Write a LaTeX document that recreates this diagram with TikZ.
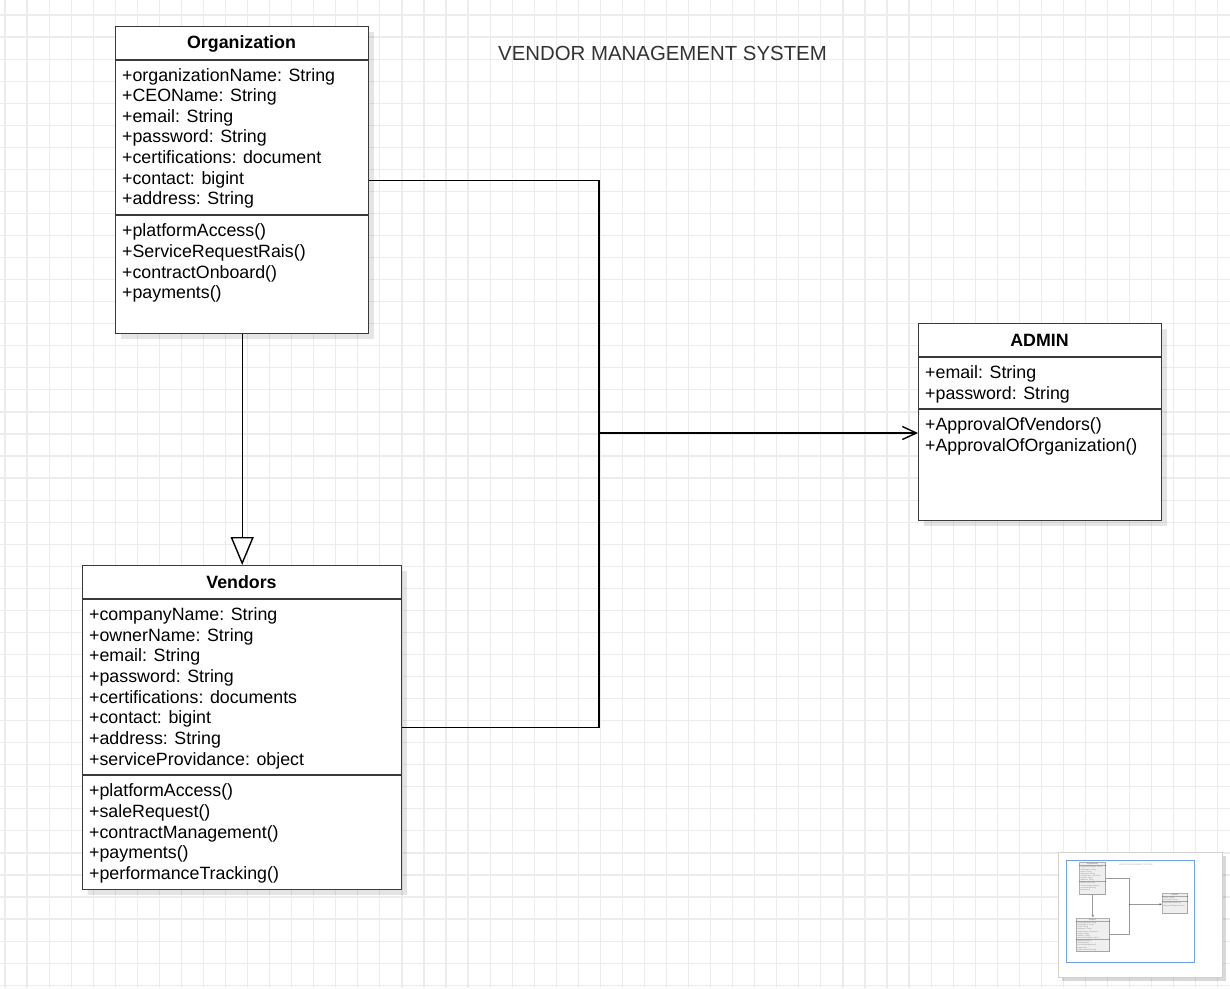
\documentclass[tikz,border=0pt]{standalone}
\usepackage{fontspec}
\setmainfont{Liberation Sans}
\usetikzlibrary{arrows.meta,shadows}
\definecolor{gridgray}{RGB}{236,236,236}
\definecolor{boxline}{RGB}{58,58,58}
\definecolor{titlegray}{RGB}{51,51,51}
\definecolor{miniblue}{RGB}{110,160,235}
\newcommand{\umllw}{1.4pt}
\tikzset{
CLASS/.style={draw=boxline, fill=white, line width=\umllw, inner sep=0pt, anchor=north west,
  drop shadow={shadow xshift=5pt, shadow yshift=-5pt, fill=black, opacity=.10}},
HEAD/.style={font=\fontsize{17.8}{21}\selectfont\bfseries, anchor=base, inner sep=0pt},
MEMBER/.style={font=\fontsize{17.8}{21}\selectfont, anchor=base west, inner sep=0pt},
TITLE/.style={font=\fontsize{20.4}{24}\selectfont, text=titlegray, anchor=base, inner sep=0pt},
DIVIDER/.style={draw=boxline, line width=\umllw},
LINK/.style={draw=black, line width=\umllw},
INHERIT/.style={LINK, -{Triangle[open, length=28pt, width=23pt, fill=white]}},
ASSOC/.style={LINK, -{Straight Barb[length=14pt, width=13pt]}},
GRID/.style={draw=gridgray, line width=1.2pt},
}
% the whole class diagram, #1 = prefix for node names
\newcommand{\vmsdiagram}[1]{%
	\node[TITLE] (#1title) at (662.5,60) {VENDOR MANAGEMENT SYSTEM};
	% Organization
	\node[CLASS, minimum width=253pt, minimum height=307pt] (#1org) at (115,26) {};
	\node[HEAD] (#1orghead) at (241.5,48.5) {Organization};
	\draw[DIVIDER] ([yshift=-34pt]#1org.north west) -- ([yshift=-34pt]#1org.north east);
	\draw[DIVIDER] ([yshift=-189pt]#1org.north west) -- ([yshift=-189pt]#1org.north east);
	\foreach \t [count=\i] in {+organizationName: String, +CEOName: String, +email: String,
		+password: String, +certifications: document, +contact: bigint, +address: String}
		\node[MEMBER] (#1orga\i) at (122,{81+20.65*(\i-1)}) {\t};
	\foreach \t [count=\i] in {+platformAccess(), +ServiceRequestRais(), +contractOnboard(), +payments()}
		\node[MEMBER] (#1orgm\i) at (122,{236.7+20.65*(\i-1)}) {\t};
	% Vendors
	\node[CLASS, minimum width=319pt, minimum height=324pt] (#1vend) at (82,565) {};
	\node[HEAD] (#1vendhead) at (241.5,588.3) {Vendors};
	\draw[DIVIDER] ([yshift=-34pt]#1vend.north west) -- ([yshift=-34pt]#1vend.north east);
	\draw[DIVIDER] ([yshift=-210pt]#1vend.north west) -- ([yshift=-210pt]#1vend.north east);
	\foreach \t [count=\i] in {+companyName: String, +ownerName: String, +email: String,
		+password: String, +certifications: documents, +contact: bigint, +address: String,
		+serviceProvidance: object}
		\node[MEMBER] (#1venda\i) at (89,{620.5+20.65*(\i-1)}) {\t};
	\foreach \t [count=\i] in {+platformAccess(), +saleRequest(), +contractManagement(),
		+payments(), +performanceTracking()}
		\node[MEMBER] (#1vendm\i) at (89,{796.7+20.65*(\i-1)}) {\t};
	% ADMIN
	\node[CLASS, minimum width=243pt, minimum height=197pt] (#1adm) at (918,323) {};
	\node[HEAD] (#1admhead) at (1039.5,346) {ADMIN};
	\draw[DIVIDER] ([yshift=-34pt]#1adm.north west) -- ([yshift=-34pt]#1adm.north east);
	\draw[DIVIDER] ([yshift=-86pt]#1adm.north west) -- ([yshift=-86pt]#1adm.north east);
	\foreach \t [count=\i] in {+email: String, +password: String}
		\node[MEMBER] (#1adma\i) at (925,{378.3+20.85*(\i-1)}) {\t};
	\foreach \t [count=\i] in {+ApprovalOfVendors(), +ApprovalOfOrganization()}
		\node[MEMBER] (#1admm\i) at (925,{430.7+20.65*(\i-1)}) {\t};
	% connectors
	\coordinate (#1junc) at (599,433);
	\draw[INHERIT] (#1org.south) -- (#1vend.north);
	\draw[LINK] (#1org.east) -- (#1org.east -| #1junc) -- (#1vend.east -| #1junc) -- (#1vend.east);
	\draw[ASSOC] (#1junc) -- (#1junc -| #1adm.west);
}

\begin{document}
\begin{tikzpicture}
[x=1pt, y=-1pt]
	\fill[white] (0,0) rectangle (1230,988);
	\useasboundingbox (0,0) rectangle (1230,988);
	\foreach \g in {0,...,55}
		\draw[GRID] ({5+22.05*\g},0) -- ({5+22.05*\g},988);
	\foreach \g in {0,...,44}
		\draw[GRID] (0,{15+22.05*\g}) -- (1230,{15+22.05*\g});
	\vmsdiagram{}
	% outline view
	\node[draw=black!18, fill=white, line width=1pt, inner sep=0pt, anchor=north west,
		minimum width=164pt, minimum height=125pt,
		drop shadow={shadow xshift=3pt, shadow yshift=-3pt, fill=black, opacity=.15}]
		(minimap) at (1058,852) {};
	\node[draw=miniblue, line width=1.3pt, inner sep=0pt, anchor=north west,
		minimum width=128pt, minimum height=102pt] (miniview) at (1066,860) {};
	\begin{scope}[transform canvas={xshift=1067.5pt, yshift=-859.6pt, scale=0.103}]
		\renewcommand{\umllw}{9pt}
		\begin{scope}[opacity=.4]
			\vmsdiagram{mini-}
		\end{scope}
	\end{scope}
\end{tikzpicture}
\end{document}
